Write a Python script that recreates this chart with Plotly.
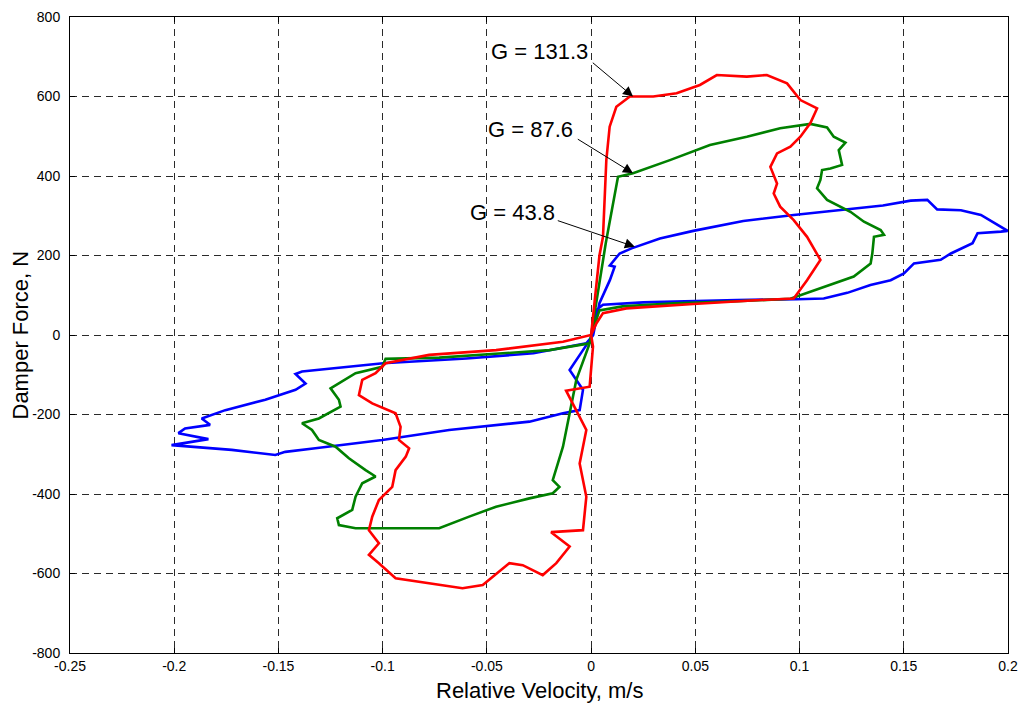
import plotly.graph_objects as go

# Relative velocity (m/s) and damper force (N) traced around each hysteresis loop
blue_v = [0.001, 0.004, 0.009, 0.0113, 0.009, 0.0137, 0.0194, 0.033, 0.049, 0.073, 0.0972,
          0.1196, 0.14, 0.1533, 0.1613, 0.166, 0.1774, 0.187, 0.195, 0.1998, 0.1966, 0.1854,
          0.183, 0.1726, 0.1677, 0.1549, 0.1501, 0.1437, 0.134, 0.1229, 0.1116, 0.0988, 0.07,
          0.049, 0.025, 0.0057, 0.0025, 0.001, -0.0023, -0.0277, -0.0598, -0.0998, -0.1258,
          -0.1387, -0.1418, -0.137, -0.1418, -0.1563, -0.1755, -0.1868, -0.1828, -0.1948,
          -0.198, -0.1836, -0.2013, -0.1724, -0.1515, -0.1467, -0.1323, -0.1002, -0.0681,
          -0.0296, -0.0135, -0.0055, -0.0039, -0.0103, -0.0039, 0.001]
blue_f = [0, 80, 138, 172, 175, 205, 218, 243, 262, 287, 302,
          314, 326, 338, 340, 316, 314, 302, 277, 262, 260, 256,
          231, 205, 189, 180, 155, 138, 126, 106, 92, 90, 88,
          86, 82, 76, 63, 0, -21, -46, -59, -71, -85,
          -92, -98, -122, -138, -163, -189, -210, -226, -235,
          -247, -262, -277, -289, -302, -294, -285, -264, -239,
          -218, -197, -189, -138, -88, -38, 0]

green_v = [0.0, 0.003, 0.007, 0.0129, 0.0201, 0.0378, 0.057, 0.0747, 0.0907, 0.1052, 0.1132,
           0.1164, 0.122, 0.1188, 0.1204, 0.1148, 0.1108, 0.11, 0.1084, 0.1132, 0.1196,
           0.1244, 0.1309, 0.1389, 0.1405, 0.1357, 0.1349, 0.1341, 0.126, 0.1148, 0.1036,
           0.0956, 0.07, 0.04, 0.015, 0.004, 0.0, -0.0007, -0.02, -0.05, -0.0729, -0.0986,
           -0.1002, -0.113, -0.1226, -0.125, -0.121, -0.1202, -0.1306, -0.1387, -0.1339,
           -0.1306, -0.1226, -0.1162, -0.1082, -0.1034, -0.1098, -0.113, -0.1146, -0.1218,
           -0.121, -0.113, -0.0938, -0.0729, -0.0585, -0.0456, -0.0296, -0.0184, -0.0152,
           -0.0184, -0.0135, -0.0071, -0.0007, 0.0]
green_f = [0, 100, 230, 398, 407, 440, 478, 499, 520, 531, 522,
           499, 484, 465, 428, 419, 415, 390, 369, 340, 323,
           310, 285, 264, 252, 247, 205, 180, 147, 126, 105,
           91, 85, 80, 72, 62, 0, -21, -38, -48, -57, -60,
           -80, -96, -126, -134, -163, -180, -210, -222, -239,
           -264, -281, -310, -340, -356, -373, -407, -440, -461,
           -478, -486, -486, -486, -457, -432, -411, -398, -382,
           -365, -281, -113, -21, 0]

red_v = [0.0, 0.002, 0.004, 0.0057, 0.0073, 0.0089, 0.0121, 0.0186, 0.0298, 0.041, 0.0522,
         0.0603, 0.0747, 0.0843, 0.094, 0.1004, 0.1084, 0.1052, 0.1004, 0.0956, 0.0892,
         0.086, 0.0892, 0.0876, 0.0907, 0.0972, 0.1036, 0.11, 0.1068, 0.1036, 0.0972,
         0.0811, 0.049, 0.0169, 0.0057, 0.0025, 0.0, -0.0135, -0.0456, -0.0777, -0.0986,
         -0.1034, -0.1098, -0.1114, -0.105, -0.0938, -0.0914, -0.0922, -0.0873, -0.0889,
         -0.0938, -0.0954, -0.1018, -0.105, -0.1066, -0.1018, -0.1066, -0.1018, -0.0938,
         -0.0777, -0.0617, -0.052, -0.0392, -0.0328, -0.0232, -0.0167, -0.0103, -0.0192,
         -0.0039, -0.0023, -0.0055, -0.0023, -0.012, -0.0007, 0.0009, 0.0]
red_f = [0, 100, 200, 247, 440, 524, 574, 600, 600, 608, 629,
         654, 650, 654, 633, 591, 570, 533, 499, 474, 457,
         423, 381, 356, 323, 289, 247, 189, 164, 138, 92,
         88, 78, 67, 55, 29, 0, -17, -38, -50, -71,
         -96, -113, -151, -172, -197, -231, -264, -285, -306,
         -340, -382, -415, -457, -491, -524, -553, -574, -612,
         -625, -637, -629, -574, -579, -604, -574, -532, -496,
         -491, -407, -323, -239, -140, -130, -29, 0]

x_ticks = [-0.25, -0.2, -0.15, -0.1, -0.05, 0, 0.05, 0.1, 0.15, 0.2]
x_tick_text = ["-0.25", "-0.2", "-0.15", "-0.1", "-0.05", "0", "0.05", "0.1", "0.15", "0.2"]
y_ticks = [-800, -600, -400, -200, 0, 200, 400, 600, 800]
y_tick_text = ["-800", "-600", "-400", "-200", "0", "200", "400", "600", "800"]

# Gain labels and where their arrows point on each loop
labels = ["G = 131.3", "G = 87.6", "G = 43.8"]
label_pos = [(-0.0248, 712), (-0.0291, 516), (-0.0378, 309)]
arrow_tail = [(0.0001, 688), (-0.0071, 495), (-0.0167, 289)]
arrow_tip = [(0.0201, 600), (0.0201, 407), (0.021, 222)]

FONT = "Liberation Sans, Arial, sans-serif"

fig = go.Figure()
for v, f, c in [(blue_v, blue_f, "#0000ff"), (green_v, green_f, "#008000"), (red_v, red_f, "#ff0000")]:
    fig.add_trace(go.Scatter(x=v, y=f, mode="lines", line=dict(color=c, width=2.6),
                             showlegend=False, hoverinfo="skip"))

annotations = []
for txt, (tx, ty), (ax, ay), (px, py) in zip(labels, label_pos, arrow_tail, arrow_tip):
    annotations.append(dict(x=tx, y=ty, xref="x", yref="y", text=txt, showarrow=False,
                            font=dict(family=FONT, size=22, color="black")))
    annotations.append(dict(x=px, y=py, ax=ax, ay=ay, xref="x", yref="y", axref="x", ayref="y",
                            text="", showarrow=True, arrowhead=2, arrowsize=2,
                            arrowwidth=1, arrowcolor="black", standoff=0))

# Axis titles
annotations.append(dict(text="Relative Velocity, m/s", x=0.5, y=0, xref="paper", yref="paper",
                        xanchor="center", yanchor="top", yshift=-23, showarrow=False,
                        font=dict(family=FONT, size=22, color="black")))
annotations.append(dict(text="Damper Force, N", x=0, y=0.5, xref="paper", yref="paper",
                        xanchor="right", yanchor="middle", xshift=-36, textangle=-90,
                        showarrow=False, font=dict(family=FONT, size=22, color="black")))

axis_common = dict(showline=True, linecolor="black", linewidth=1, mirror="allticks",
                   ticks="inside", ticklen=5, tickcolor="black", zeroline=False,
                   showgrid=True, gridcolor="#2a2a2a", gridwidth=1, griddash="7px,5px",
                   automargin=False,
                   tickfont=dict(family=FONT, size=14, color="black"))

fig.update_layout(
    width=1023, height=704,
    margin=dict(l=70, r=15, t=17, b=51),
    paper_bgcolor="white", plot_bgcolor="white",
    xaxis=dict(range=[-0.25, 0.2], tickmode="array", tickvals=x_ticks, ticktext=x_tick_text,
               **axis_common),
    yaxis=dict(range=[-800, 800], tickmode="array", tickvals=y_ticks, ticktext=y_tick_text,
               ticklabelstandoff=6, **axis_common),
    annotations=annotations,
)

fig.write_html("out.html")
